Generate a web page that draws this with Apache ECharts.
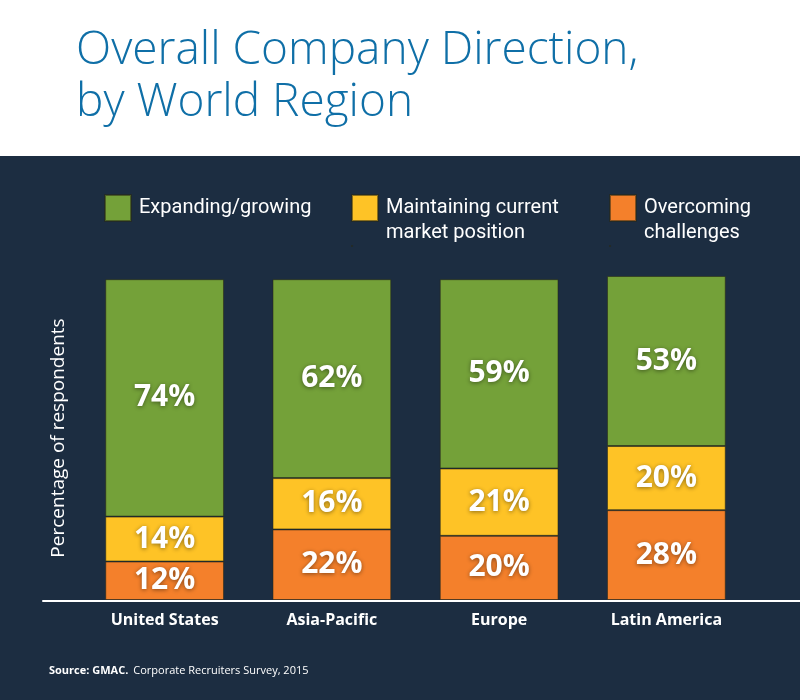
<!DOCTYPE html>
<html lang="en">
    <head>
        <meta charset="UTF-8" />
        <title>Overall Company Direction, by World Region</title>
        <script src="https://cdn.jsdelivr.net/npm/echarts@6.0.0/dist/echarts.min.js"></script>
        <style>
            body,
            html {
                margin: 0;
                padding: 0;
                width: 100%;
                height: 100%;
                overflow: hidden;
                background-color: #1c2d41;
            }
            #main {
                width: 800px;
                height: 700px;
            }
        </style>
    </head>
    <body>
        <div id="main"></div>
        <script>
            const regions = ["United States", "Asia-Pacific", "Europe", "Latin America"]
            const expanding = [74, 62, 59, 53]
            const maintaining = [14, 16, 21, 20]
            const overcoming = [12, 22, 20, 28]
            const seriesNames = ["Expanding/growing", "Maintaining current\nmarket position", "Overcoming\nchallenges"]
            const seriesColors = ["#74a139", "#fec326", "#f4802b"]

            const chart = echarts.init(document.getElementById("main"), null, { renderer: "canvas" })

            const bodyFont = "'Open Sans', sans-serif"
            const legendFont = "Roboto, sans-serif"

            // one legend per item so each can sit where the original puts it.
            // two-line names get a tall icon whose square sits at the top (a speck marks the bottom),
            // so the square lines up with the first line of text
            function legendFor(i, left, top) {
                const multi = seriesNames[i].indexOf("\n") >= 0
                return {
                    data: [seriesNames[i]],
                    left: left,
                    top: top,
                    icon: multi ? "path://M0,0H26V26H0Z M0,50.99H0.01V51H0Z" : "rect",
                    itemWidth: 26,
                    itemHeight: multi ? 51 : 26,
                    selectedMode: false,
                    textStyle: {
                        color: "#ffffff",
                        fontFamily: legendFont,
                        fontSize: 20,
                        lineHeight: 25,
                        padding: [0, 0, 0, 3],
                    },
                }
            }

            function barSeries(name, values, color) {
                return {
                    name: name,
                    type: "bar",
                    stack: "total",
                    data: values,
                    barCategoryGap: "29%",
                    itemStyle: { color: color, borderColor: "rgba(40,40,20,0.55)", borderWidth: 1 },
                    label: {
                        show: true,
                        position: "inside",
                        formatter: "{c}%",
                        color: "#ffffff",
                        fontFamily: bodyFont,
                        fontWeight: "bold",
                        fontSize: 30,
                        textBorderWidth: 0,
                        textShadowColor: "rgba(0,0,0,0.45)",
                        textShadowBlur: 4,
                        textShadowOffsetY: 1,
                    },
                    emphasis: { disabled: true },
                }
            }

            const option = {
                backgroundColor: "#1c2d41",
                animation: false,
                graphic: [
                    {
                        type: "rect",
                        left: 0,
                        top: 0,
                        z: -10,
                        shape: { width: 800, height: 156 },
                        style: { fill: "#ffffff" },
                    },
                ],
                title: [
                    {
                        text: "Overall Company Direction,\nby World Region",
                        left: 71,
                        top: 20,
                        textStyle: {
                            color: "#0f6fa7",
                            fontFamily: bodyFont,
                            fontWeight: 300,
                            fontSize: 46,
                            lineHeight: 52,
                        },
                    },
                    {
                        text: "{b|Source: GMAC.} {r|Corporate Recruiters Survey, 2015}",
                        left: 44,
                        top: 657,
                        textStyle: {
                            rich: {
                                b: { color: "#ffffff", fontFamily: bodyFont, fontWeight: "bold", fontSize: 11 },
                                r: { color: "#ffffff", fontFamily: bodyFont, fontWeight: "normal", fontSize: 11 },
                            },
                        },
                    },
                ],
                legend: [legendFor(0, 99, 189), legendFor(1, 346, 189), legendFor(2, 604, 189)],
                grid: [
                    { left: 81, right: 50, top: 276, bottom: 100 },
                    { left: 43, right: 0, top: 276, bottom: 99 },
                ],
                xAxis: [
                    {
                        type: "category",
                        gridIndex: 0,
                        data: regions,
                        axisLine: { show: false },
                        axisTick: { show: false },
                        axisLabel: {
                            color: "#ffffff",
                            fontFamily: bodyFont,
                            fontWeight: "bold",
                            fontSize: 16,
                            margin: 12,
                        },
                    },
                    {
                        // baseline that runs past the bars to the right edge
                        type: "value",
                        gridIndex: 1,
                        axisLine: { show: true, lineStyle: { color: "#ffffff", width: 2 } },
                        axisTick: { show: false },
                        axisLabel: { show: false },
                        splitLine: { show: false },
                    },
                ],
                yAxis: [
                    {
                        type: "value",
                        gridIndex: 0,
                        min: 0,
                        max: 101,
                        name: "Percentage of respondents",
                        nameLocation: "middle",
                        nameGap: 13,
                        nameTextStyle: { color: "#ffffff", fontFamily: bodyFont, fontSize: 19 },
                        axisLine: { show: false },
                        axisTick: { show: false },
                        axisLabel: { show: false },
                        splitLine: { show: false },
                    },
                    { type: "value", gridIndex: 1, show: false },
                ],
                series: [
                    barSeries(seriesNames[2], overcoming, seriesColors[2]),
                    barSeries(seriesNames[1], maintaining, seriesColors[1]),
                    barSeries(seriesNames[0], expanding, seriesColors[0]),
                ],
            }

            chart.setOption(option)
        </script>
    </body>
</html>
